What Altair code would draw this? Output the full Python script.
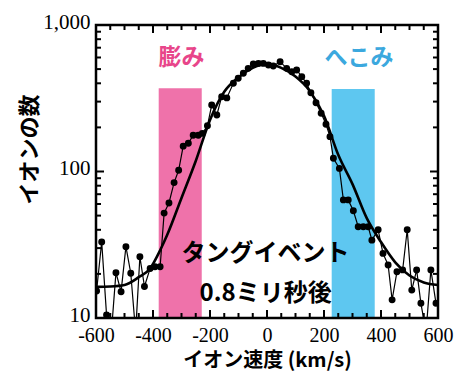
import altair as alt
import pandas as pd

# measured data (ion velocity km/s, ion counts)
velocity = [-598,-580,-563,-546,-530,-512,-495,-478,-461,-446,-430,-410,-393,-375,-361,-344,-326,-310,-294,-276,
            -259,-241,-227,-209,-194,-176,-159,-141,-118,-101,-83,-66,-48,-30,-13,5,22,46,69,87,
            104,122,139,154,172,190,207,221,233,254,268,285,303,320,338,355,368,390,407,425,
            439,456,476,492,508,525,540,558,575,593]
counts = [15.3,33,10.5,8,20.4,15.1,30.7,20.2,8,26.2,16.4,21.8,22.4,22.4,52,61,84,102,149,156,
          177,177,182,205,284,243,324,318,400,433,468,506,542,547,547,533,525,562,506,480,
          493,444,400,345,295,250,210,173,123,105,64,64,54,42,42,42,34,40,27.6,23,
          13.3,20.7,21.3,40,15.5,21.3,12.6,8,21.3,12.6]

# fitted curve
fit_v = [-600,-550,-500,-450,-410,-375,-350,-300,-250,-200,-150,-100,-50,0,50,100,150,200,250,300,350,400,450,500,550,600]
fit_c = [16.3,16.4,16.8,19,21.8,29,37,66,118,225,350,440,510,545,510,445,355,240,130,82,48,33,24,19.5,17.5,16.8]

# shaded bands
band_names = ["膨み", "へこみ"]
band_x1 = [-380, 227]
band_x2 = [-229, 378]
band_top = [370, 365]
band_colors = ["#ef72aa", "#5ec7f0"]
label_colors = ["#e8458a", "#3ba8de"]
label_x = [-300, 323]
label_y = [600, 600]

# annotation
note_lines = ["タングイベント", "0.8ミリ秒後"]
note_x = [-5, -5]
note_y = [27.5, 14.6]

# ticks
x_major = [-600, -400, -200, 0, 200, 400, 600]
x_minor = [-550, -500, -450, -350, -300, -250, -150, -100, -50, 50, 100, 150, 250, 300, 350, 450, 500, 550]
y_major = [10, 100, 1000]
y_minor = [20, 30, 40, 50, 60, 70, 80, 90, 200, 300, 400, 500, 600, 700, 800, 900]

W, H = 342, 293

xs = alt.Scale(domain=[-600, 600], nice=False, zero=False)
ys = alt.Scale(type="log", domain=[10, 1000], nice=False)

df = pd.DataFrame({"v": velocity, "c": counts})
fit = pd.DataFrame({"v": fit_v, "c": fit_c})
bands = pd.DataFrame({"name": band_names, "x1": band_x1, "x2": band_x2, "top": band_top,
                      "color": band_colors, "lc": label_colors, "lx": label_x, "ly": label_y})
notes = pd.DataFrame({"t": note_lines, "x": note_x, "y": note_y})

rect = alt.Chart(bands).mark_rect(opacity=1).encode(
    x=alt.X("x1:Q", scale=xs, axis=alt.Axis(
        values=x_major, ticks=False, domain=False, grid=False, labelFlush=False,
        labelExpr="datum.value < 0 ? '-' + abs(datum.value) : '' + datum.value",
        labelFont="Liberation Serif", labelFontSize=20, labelColor="black", labelPadding=7,
        title="イオン速度 (km/s)", titleFont="Noto Sans CJK JP", titleFontWeight="bold",
        titleFontSize=20, titleColor="black", titlePadding=5)),
    x2="x2:Q",
    y=alt.Y("top:Q", scale=ys, axis=alt.Axis(
        values=y_major, format=",", ticks=False, domain=False, grid=False,
        labelFont="Liberation Serif", labelFontSize=21, labelColor="black", labelPadding=6,
        labelOffset=-3,
        title="イオンの数", titleFont="Noto Sans CJK JP", titleFontWeight="bold",
        titleFontSize=22, titleColor="black", titleX=-67, titleY=124, titleBaseline="middle")),
    y2=alt.datum(10),
    color=alt.Color("color:N", scale=None),
)

band_text = alt.Chart(bands).mark_text(font="Noto Sans CJK JP", fontWeight="bold", fontSize=23).encode(
    x=alt.X("lx:Q", scale=xs), y=alt.Y("ly:Q", scale=ys), text="name:N",
    color=alt.Color("lc:N", scale=None))

fit_line = alt.Chart(fit).mark_line(color="black", strokeWidth=2.6, interpolate="monotone").encode(
    x=alt.X("v:Q", scale=xs), y=alt.Y("c:Q", scale=ys))

data_line = alt.Chart(df).mark_line(color="black", strokeWidth=1.2, clip=True).encode(
    x=alt.X("v:Q", scale=xs), y=alt.Y("c:Q", scale=ys))

data_pts = alt.Chart(df).mark_circle(color="black", size=48, opacity=1, clip=True).encode(
    x=alt.X("v:Q", scale=xs), y=alt.Y("c:Q", scale=ys))

note_text = alt.Chart(notes).mark_text(font="Noto Sans CJK JP", fontWeight="bold", fontSize=24, color="black").encode(
    x=alt.X("x:Q", scale=xs), y=alt.Y("y:Q", scale=ys), text="t:N")

frame = alt.Chart(pd.DataFrame({"f": [1]})).mark_rect(fill=None, stroke="black", strokeWidth=2.5).encode(
    x=alt.value(0), x2=alt.value(W), y=alt.value(0), y2=alt.value(H))

def xticks(vals, L):
    d = pd.DataFrame({"v": vals})
    b = alt.Chart(d).mark_rule(color="black", strokeWidth=2).encode(
        x=alt.X("v:Q", scale=xs), y=alt.value(H), y2=alt.value(H - L))
    t = alt.Chart(d).mark_rule(color="black", strokeWidth=2).encode(
        x=alt.X("v:Q", scale=xs), y=alt.value(0), y2=alt.value(L))
    return [b, t]

def yticks(vals, L):
    d = pd.DataFrame({"c": vals})
    l = alt.Chart(d).mark_rule(color="black", strokeWidth=2).encode(
        y=alt.Y("c:Q", scale=ys), x=alt.value(0), x2=alt.value(L))
    r = alt.Chart(d).mark_rule(color="black", strokeWidth=2).encode(
        y=alt.Y("c:Q", scale=ys), x=alt.value(W), x2=alt.value(W - L))
    return [l, r]

tick_layers = xticks(x_major, 8) + xticks(x_minor, 5) + yticks(y_major, 8) + yticks(y_minor, 5)

chart = alt.layer(rect, band_text, fit_line, data_line, data_pts, note_text, frame, *tick_layers).properties(
    width=W, height=H,
    autosize=alt.AutoSizeParams(type="none"),
    padding={"left": 88, "top": 17, "right": 18, "bottom": 55},
).configure_view(stroke=None).configure(background="white")

chart.save("out.html", embed_options={"renderer": "svg", "actions": False})
